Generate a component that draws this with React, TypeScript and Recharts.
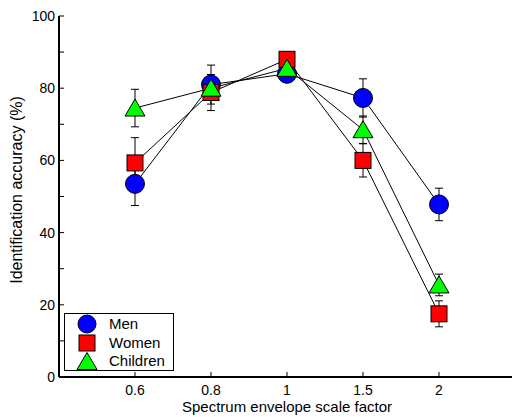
import React from 'react';
import {
  ComposedChart,
  Line,
  Bar,
  XAxis,
  YAxis,
  Legend,
  Label,
} from 'recharts';

const categories = ['0.6', '0.8', '1', '1.5', '2'];
const menAcc = [53.5, 81, 84, 77.3, 47.8];
const menErr = [6, 5.4, 2, 5.3, 4.5];
const womenAcc = [59.3, 78.8, 88, 60, 17.5];
const womenErr = [7, 5, 2, 4.6, 3.6];
const childAcc = [74.5, 80, 85.5, 68.5, 25.5];
const childErr = [5.2, 3, 2, 3.8, 3];
const yTicks = [0, 10, 20, 30, 40, 50, 60, 70, 80, 90, 100];
const xTicks = [1, 2, 3, 4, 5];

const data = categories.map((label, i) => ({
  pos: i + 1,
  label,
  men: menAcc[i],
  menErr: menErr[i],
  women: womenAcc[i],
  womenErr: womenErr[i],
  children: childAcc[i],
  childErr: childErr[i],
}));

const BLUE = '#0000ff';
const RED = '#ff0000';
const GREEN = '#00ff00';

function CircleDot(props: any) {
  const { cx, cy, index } = props;
  if (cx == null || cy == null) return null;
  return <circle key={`c-${index}`} cx={cx} cy={cy} r={9.5} fill={BLUE} stroke="#000" strokeWidth={1} />;
}

function SquareDot(props: any) {
  const { cx, cy, index } = props;
  if (cx == null || cy == null) return null;
  return <rect key={`s-${index}`} x={cx - 8} y={cy - 8} width={16} height={16} fill={RED} stroke="#000" strokeWidth={1} />;
}

function TriangleDot(props: any) {
  const { cx, cy, index } = props;
  if (cx == null || cy == null) return null;
  const pts = `${cx},${cy - 9} ${cx + 10},${cy + 8} ${cx - 10},${cy + 8}`;
  return <polygon key={`t-${index}`} points={pts} fill={GREEN} stroke="#000" strokeWidth={1} />;
}

// ranged bar drawn as a capped error bar
function ErrorShape(props: any) {
  const { x, y, width, height } = props;
  if (x == null || y == null) return null;
  const top = Math.min(y, y + height);
  const bot = Math.max(y, y + height);
  const cx = x + width / 2;
  return (
    <g>
      <line x1={cx} y1={top} x2={cx} y2={bot} stroke="#000" strokeWidth={1} />
      <line x1={x} y1={top} x2={x + width} y2={top} stroke="#000" strokeWidth={1} />
      <line x1={x} y1={bot} x2={x + width} y2={bot} stroke="#000" strokeWidth={1} />
    </g>
  );
}

const legendItems = [
  { name: 'Men', shape: 'circle' },
  { name: 'Women', shape: 'square' },
  { name: 'Children', shape: 'triangle' },
];

function LegendBox() {
  return (
    <div
      style={{
        position: 'relative',
        width: 110,
        height: 58,
        boxSizing: 'border-box',
        border: '1.5px solid #000',
        background: '#fff',
      }}
    >
      {legendItems.map((item, i) => (
        <div key={item.name} style={{ position: 'absolute', left: 0, top: i * 18.5 + 1, height: 18, width: 108 }}>
          <svg width={24} height={20} style={{ position: 'absolute', left: 10, top: -1 }}>
            {item.shape === 'circle' && <circle cx={12} cy={10} r={9} fill={BLUE} stroke="#000" />}
            {item.shape === 'square' && <rect x={4} y={2} width={16} height={16} fill={RED} stroke="#000" />}
            {item.shape === 'triangle' && <polygon points="12,1.5 22,18.5 2,18.5" fill={GREEN} stroke="#000" />}
          </svg>
          <span style={{ position: 'absolute', left: 44, top: 0, fontSize: 15, lineHeight: '18px', color: '#000' }}>
            {item.name}
          </span>
        </div>
      ))}
    </div>
  );
}

const axisLine = { stroke: '#000', strokeWidth: 2 };
const tickLine = { stroke: '#000', strokeWidth: 1 };

const series = [
  { key: 'men', err: 'menErr', name: 'Men', dot: CircleDot },
  { key: 'women', err: 'womenErr', name: 'Women', dot: SquareDot },
  { key: 'children', err: 'childErr', name: 'Children', dot: TriangleDot },
];

export default function App() {
  return (
    <div
      style={{
        position: 'fixed',
        left: 0,
        top: 0,
        width: 512,
        height: 417,
        overflow: 'hidden',
        background: '#fff',
        fontFamily: '"Liberation Sans", Arial, sans-serif',
      }}
    >
      <ComposedChart width={520} height={417} data={data} margin={{ top: 16, right: 5, bottom: 0, left: 0 }}>
        <XAxis
          xAxisId="b"
          dataKey="pos"
          type="number"
          domain={[0, 6]}
          ticks={xTicks}
          tickFormatter={(v: number) => categories[v - 1] ?? ''}
          height={40}
          axisLine={axisLine}
          tickLine={tickLine}
          tickSize={-5}
          tickMargin={13}
          tick={{ fill: '#000', fontSize: 14 }}
        >
          <Label value="Spectrum envelope scale factor" position="insideBottom" offset={5} fill="#000" fontSize={15} />
        </XAxis>
        <XAxis
          xAxisId="t"
          orientation="top"
          dataKey="pos"
          type="number"
          domain={[0, 6]}
          ticks={xTicks}
          tickFormatter={() => ''}
          height={0}
          axisLine={axisLine}
          tickLine={tickLine}
          tickSize={-5}
        />
        {series.map((s) => (
          <XAxis
            key={`ax-${s.key}`}
            xAxisId={`e-${s.key}`}
            dataKey="pos"
            type="number"
            domain={[0, 6]}
            hide
          />
        ))}
        <YAxis
          yAxisId="l"
          type="number"
          domain={[0, 100]}
          ticks={yTicks}
          tickFormatter={(v: number) => (v % 20 === 0 ? String(v) : '')}
          width={59}
          axisLine={axisLine}
          tickLine={tickLine}
          tickSize={-5}
          tickMargin={9}
          tick={{ fill: '#000', fontSize: 14 }}
          interval={0}
        >
          <Label
            content={() => (
              <text
                x={16.5}
                y={190}
                transform="rotate(-90, 16.5, 190)"
                textAnchor="middle"
                dominantBaseline="central"
                fontSize={16}
                fill="#000"
              >
                Identification accuracy (%)
              </text>
            )}
          />
        </YAxis>
        <YAxis
          yAxisId="r"
          orientation="right"
          type="number"
          domain={[0, 100]}
          ticks={yTicks}
          tickFormatter={() => ''}
          width={0}
          axisLine={axisLine}
          tickLine={tickLine}
          tickSize={-5}
          interval={0}
        />
        <Legend
          layout="horizontal"
          verticalAlign="middle"
          align="center"
          content={() => <LegendBox />}
          wrapperStyle={{ left: 64, top: 313, width: 110, height: 58 }}
        />
        {/* error bars as ranged bars, kept under the markers */}
        {series.map((s) => (
          <Bar
            key={`${s.key}-err`}
            xAxisId={`e-${s.key}`}
            yAxisId="l"
            dataKey={(d: any) => [d[s.key] - d[s.err], d[s.key] + d[s.err]]}
            barSize={8}
            shape={ErrorShape}
            legendType="none"
            isAnimationActive={false}
          />
        ))}
        {series.map((s) => (
          <Line
            key={s.key}
            xAxisId="b"
            yAxisId="l"
            type="linear"
            dataKey={s.key}
            name={s.name}
            stroke="#000"
            strokeWidth={1}
            dot={s.dot}
            activeDot={false}
            isAnimationActive={false}
          />
        ))}
      </ComposedChart>
    </div>
  );
}
